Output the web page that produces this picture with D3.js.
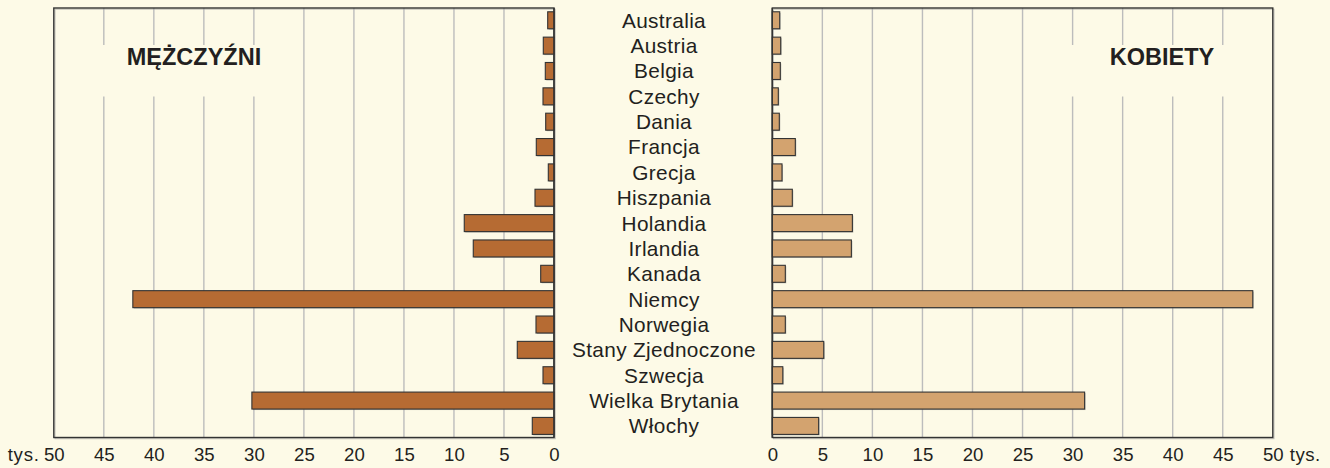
<!DOCTYPE html>
<html>
<head>
<meta charset="utf-8">
<script src="https://cdn.jsdelivr.net/npm/d3@7"></script>
<style>
  html, body { margin: 0; padding: 0; background: #fdfae7; }
  svg { display: block; }
  text { font-family: "Liberation Sans", Arial, sans-serif; fill: #231f20; }
</style>
</head>
<body>
<svg id="chart" width="1330" height="468"></svg>
<script>
const categories = ["Australia","Austria","Belgia","Czechy","Dania","Francja","Grecja","Hiszpania","Holandia","Irlandia","Kanada","Niemcy","Norwegia","Stany Zjednoczone","Szwecja","Wielka Brytania","Włochy"];
const men   = [0.63, 1.07, 0.87, 1.1, 0.83, 1.77, 0.57, 1.9, 8.97, 8.07, 1.33, 42.1, 1.8, 3.67, 1.1, 30.2, 2.17];
const women = [0.74, 0.84, 0.8, 0.6, 0.7, 2.3, 0.97, 2.0, 8.0, 7.9, 1.3, 48.0, 1.3, 5.14, 1.05, 31.2, 4.63];
const ticks = [0, 5, 10, 15, 20, 25, 30, 35, 40, 45, 50];
const titleMen = "MĘŻCZYŹNI";
const titleWomen = "KOBIETY";
const unit = "tys.";

const svg = d3.select("#chart");
const frameTop = 8, frameBottom = 437.5;
const y = d3.scaleBand().domain(categories).range([7.6, 438.6]).paddingInner(0.33).paddingOuter(0.165);
const xL = d3.scaleLinear().domain([0, 50]).range([554, 53.8]);
const xR = d3.scaleLinear().domain([0, 50]).range([772.3, 1272.8]);

const gridColor = "#bcbcbc";
const frameColor = "#333";
const tickFont = 18.6, catFont = 20.8, titleFont = 23.5;

function panel(x, vals, color, title, titleX, gapX0, gapX1, side) {
  const g = svg.append("g");
  const inner = ticks.filter(t => t > 0 && t < 50);
  inner.forEach(t => {
    const px = x(t);
    if (px > gapX0 && px < gapX1) {
      g.append("line").attr("x1", px).attr("x2", px).attr("y1", frameTop).attr("y2", 45)
        .attr("stroke", gridColor).attr("stroke-width", 1.4);
      g.append("line").attr("x1", px).attr("x2", px).attr("y1", 96.5).attr("y2", frameBottom)
        .attr("stroke", gridColor).attr("stroke-width", 1.4);
    } else {
      g.append("line").attr("x1", px).attr("x2", px).attr("y1", frameTop).attr("y2", frameBottom)
        .attr("stroke", gridColor).attr("stroke-width", 1.4);
    }
  });
  const x0 = x(0), x50 = x(50);
  const fl = Math.min(x0, x50), fr = Math.max(x0, x50);
  g.append("rect").attr("x", fl + 1.2).attr("y", frameTop + 1.2).attr("width", fr - fl).attr("height", frameBottom - frameTop)
    .attr("fill", "none").attr("stroke", "#9a9a9a").attr("stroke-width", 1).attr("opacity", 0.6);
  g.append("rect").attr("x", fl).attr("y", frameTop).attr("width", fr - fl).attr("height", frameBottom - frameTop)
    .attr("fill", "none").attr("stroke", frameColor).attr("stroke-width", 1.4);
  categories.forEach((c, i) => {
    const v = vals[i];
    const bx = Math.min(x(0), x(v));
    const bw = Math.abs(x(v) - x(0));
    g.append("rect").attr("x", bx + 1).attr("y", y(c) + 1).attr("width", bw).attr("height", y.bandwidth())
      .attr("fill", "#777").attr("opacity", 0.45);
    g.append("rect").attr("x", bx).attr("y", y(c)).attr("width", bw).attr("height", y.bandwidth())
      .attr("fill", color).attr("stroke", frameColor).attr("stroke-width", 1.1);
  });
  g.append("line").attr("x1", x0).attr("x2", x0).attr("y1", frameTop).attr("y2", frameBottom)
    .attr("stroke", frameColor).attr("stroke-width", 1.4);
  g.append("text").attr("x", titleX).attr("y", 65).attr("text-anchor", "middle")
    .attr("font-size", titleFont).attr("font-weight", "bold").text(title);
  const axis = d3.axisBottom(x).tickValues(ticks).tickSize(0).tickPadding(0).tickFormat(d3.format("d"));
  const ag = svg.append("g").attr("transform", `translate(0, ${frameBottom})`).call(axis);
  ag.select(".domain").remove();
  ag.selectAll("text").attr("y", 23.5).attr("dy", "0")
    .attr("font-size", tickFont).attr("font-family", "Liberation Sans, Arial, sans-serif").attr("fill", "#231f20");
  if (side === "left") {
    svg.append("text").attr("x", x(50) - 14).attr("y", frameBottom + 23.5).attr("text-anchor", "end")
      .attr("font-size", tickFont).attr("letter-spacing", 0.8).text(unit);
  } else {
    svg.append("text").attr("x", x(50) + 17).attr("y", frameBottom + 23.5).attr("text-anchor", "start")
      .attr("font-size", tickFont).attr("letter-spacing", 0.5).text(unit);
  }
}

panel(xL, men, "#b66b33", titleMen, 194, 95, 290, "left");
panel(xR, women, "#d3a36f", titleWomen, 1162, 1050, 1240, "right");

svg.append("g").selectAll("text").data(categories).join("text")
  .attr("x", 664).attr("y", d => y(d) + y.bandwidth() / 2 + 7.4)
  .attr("text-anchor", "middle").attr("letter-spacing", 0.35)
  .attr("font-size", catFont).text(d => d);
</script>
</body>
</html>
